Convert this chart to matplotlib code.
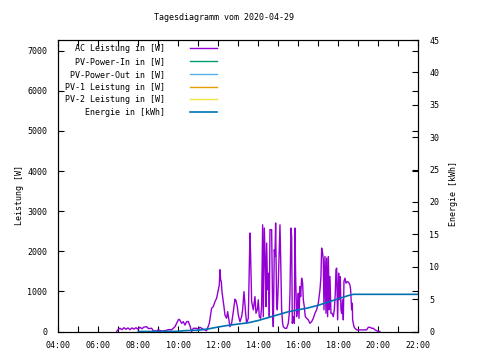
import matplotlib
matplotlib.use("Agg")
import matplotlib.pyplot as plt
from matplotlib.ticker import MultipleLocator, FuncFormatter

title = "Tagesdiagramm vom 2020-04-29"

# AC Leistung [W], gelesen aus dem Diagramm
ac_time = ["06:55", "07:00", "07:05", "07:11", "07:17", "07:23", "07:29", "07:35", "07:41", "07:47",
           "07:53", "07:59", "08:05", "08:11", "08:17", "08:25", "08:30", "08:40", "08:45", "08:55",
           "09:00", "09:10", "09:20", "09:30", "09:40", "09:45", "09:50", "09:55", "10:00", "10:03",
           "10:10", "10:15", "10:20", "10:25", "10:30", "10:35", "10:40", "10:45", "10:55", "11:00",
           "11:05", "11:15", "11:25", "11:33", "11:37", "11:40", "11:45", "11:50", "11:55", "12:00",
           "12:03", "12:05", "12:07", "12:09", "12:11", "12:13", "12:17", "12:20", "12:25", "12:28",
           "12:32", "12:35", "12:40", "12:45", "12:50", "12:53", "12:57", "13:00", "13:05", "13:10",
           "13:13", "13:17", "13:22", "13:25", "13:30", "13:35", "13:37", "13:40", "13:45", "13:50",
           "13:53", "13:57", "14:00", "14:03", "14:07", "14:10", "14:13", "14:15", "14:18", "14:21",
           "14:23", "14:25", "14:28", "14:31", "14:33", "14:35", "14:40", "14:43", "14:45", "14:48",
           "14:50", "14:52", "14:55", "14:57", "15:00", "15:03", "15:05", "15:07", "15:10", "15:13",
           "15:15", "15:20", "15:25", "15:30", "15:33", "15:35", "15:38", "15:40", "15:42", "15:45",
           "15:48", "15:50", "15:52", "15:55", "15:58", "16:00", "16:02", "16:05", "16:07", "16:10",
           "16:13", "16:15", "16:18", "16:21", "16:25", "16:30", "16:35", "16:40", "16:45", "16:50",
           "16:55", "17:00", "17:05", "17:08", "17:10", "17:13", "17:15", "17:17", "17:20", "17:23",
           "17:25", "17:28", "17:30", "17:33", "17:35", "17:38", "17:41", "17:45", "17:48", "17:51",
           "17:53", "17:55", "17:58", "18:01", "18:03", "18:06", "18:08", "18:10", "18:13", "18:15",
           "18:17", "18:20", "18:23", "18:27", "18:31", "18:35", "18:37", "18:40", "18:42", "18:43",
           "18:45", "18:47", "18:50", "18:55", "19:25", "19:30", "19:35", "19:40", "19:45", "19:50",
           "19:55", "20:00", "20:05"]
ac_w = [0, 55, 80, 45, 95, 55, 90, 45, 90, 60,
        95, 55, 105, 70, 110, 120, 75, 80, 20, 10,
        45, 10, 20, 45, 45, 80, 120, 205, 290, 305,
        205, 245, 160, 245, 250, 140, 0, 80, 80, 55,
        105, 55, 20, 205, 410, 580, 620, 745, 830, 1040,
        1160, 1540, 1290, 1245, 995, 870, 620, 410, 330, 495,
        290, 120, 205, 495, 805, 770, 620, 410, 245, 370,
        540, 995, 455, 205, 330, 2455, 1870, 745, 540, 870,
        455, 540, 790, 370, 330, 620, 2660, 370, 2580, 1620,
        620, 2205, 1040, 1455, 370, 2540, 2540, 540, 120, 2040,
        1870, 2705, 705, 540, 1205, 2120, 2660, 1870, 540, 205,
        120, 80, 80, 205, 455, 955, 2580, 2370, 205, 370,
        205, 2580, 1370, 370, 620, 955, 330, 1120, 870, 1330,
        1205, 790, 620, 370, 330, 290, 205, 245, 330, 455,
        540, 705, 1040, 1370, 2080, 1955, 1790, 540, 1870, 455,
        1830, 370, 1870, 540, 1370, 455, 455, 370, 540, 955,
        1540, 1580, 290, 1455, 790, 1370, 540, 455, 790, 290,
        1250, 1330, 1205, 1245, 1225, 1160, 1040, 540, 705, 290,
        205, 120, 80, 40, 40, 105, 105, 80, 80, 40,
        20, 0, 0]

# Energie [kWh]
energy_time = ["08:00", "10:00", "10:15", "11:00", "11:30", "12:00", "12:30", "13:00", "13:30",
               "14:00", "14:30", "15:00", "15:30", "16:00", "16:30", "17:00", "17:30", "18:00",
               "18:30", "18:45", "22:00"]
energy_kwh = [0.0, 0.02, 0.12, 0.2, 0.4, 0.7, 0.95, 1.15, 1.35,
              1.7, 2.15, 2.6, 3.05, 3.35, 3.65, 4.05, 4.55, 5.05,
              5.55, 5.74, 5.74]

# Reihen ohne Daten an diesem Tag
pv_in_time, pv_in_w = [], []
pv_out_time, pv_out_w = [], []
pv1_time, pv1_w = [], []
pv2_time, pv2_w = [], []

labels = ["AC Leistung in [W]", "PV-Power-In in [W]", "PV-Power-Out in [W]",
          "PV-1 Leistung in [W]", "PV-2 Leistung in [W]", "Energie in [kWh]"]
colors = ["#9400d3", "#009e73", "#56b4e9", "#e69f00", "#f0e442", "#0072b2"]


def to_hours(times):
    return [int(t[:2]) + int(t[3:]) / 60 for t in times]


def hour_label(x, _):
    return "%02d:00" % int(round(x))


plt.rcParams['font.family'] = ['DejaVu Sans Mono']
plt.rcParams['font.size'] = 6

fig = plt.figure(figsize=(4.8, 3.6), dpi=100)
ax = fig.add_axes([58.3 / 480, 28.5 / 360, 360 / 480, 291.5 / 360])
ax2 = ax.twinx()

handles = []
series = [(ac_time, ac_w), (pv_in_time, pv_in_w), (pv_out_time, pv_out_w),
          (pv1_time, pv1_w), (pv2_time, pv2_w)]
for (t, v), c, lab in zip(series, colors[:5], labels[:5]):
    h, = ax.plot(to_hours(t), v, color=c, lw=1.0, label=lab)
    handles.append(h)
h, = ax2.plot(to_hours(energy_time), energy_kwh, color=colors[5], lw=1.2, label=labels[5])
handles.append(h)

ax.set_xlim(4, 22)
ax.set_ylim(0, 7267)
ax2.set_ylim(0, 45)

ax.xaxis.set_major_locator(MultipleLocator(2))
ax.xaxis.set_minor_locator(MultipleLocator(1))
ax.xaxis.set_major_formatter(FuncFormatter(hour_label))
ax.yaxis.set_major_locator(MultipleLocator(1000))
ax2.yaxis.set_major_locator(MultipleLocator(5))

ax.tick_params(which='both', direction='in', top=True, right=True, length=4, width=0.8, colors='black')
ax.tick_params(axis='x', which='minor', length=4)
ax.tick_params(axis='x', pad=7)
ax.tick_params(axis='y', pad=8)
ax2.tick_params(direction='in', length=4, width=0.8, pad=8)

for a in (ax, ax2):
    for s in a.spines.values():
        s.set_linewidth(0.8)

fig.text(224 / 480, 1 - 18 / 360, title, ha='center', va='center', fontsize=6)
fig.text(19 / 480, 1 - 195 / 360, "Leistung [W]", rotation=90, ha='center', va='center', fontsize=6)
fig.text(453 / 480, 1 - 194 / 360, "Energie [kWh]", rotation=90, ha='center', va='center', fontsize=6)

ax2.legend(handles=handles, loc='upper right', bbox_to_anchor=(0.441, 0.985),
           markerfirst=False, frameon=False, borderpad=0, borderaxespad=0,
           handlelength=3.2, handletextpad=3.0, labelspacing=0.45, fontsize=6)

fig.savefig("out.png", dpi=100)
